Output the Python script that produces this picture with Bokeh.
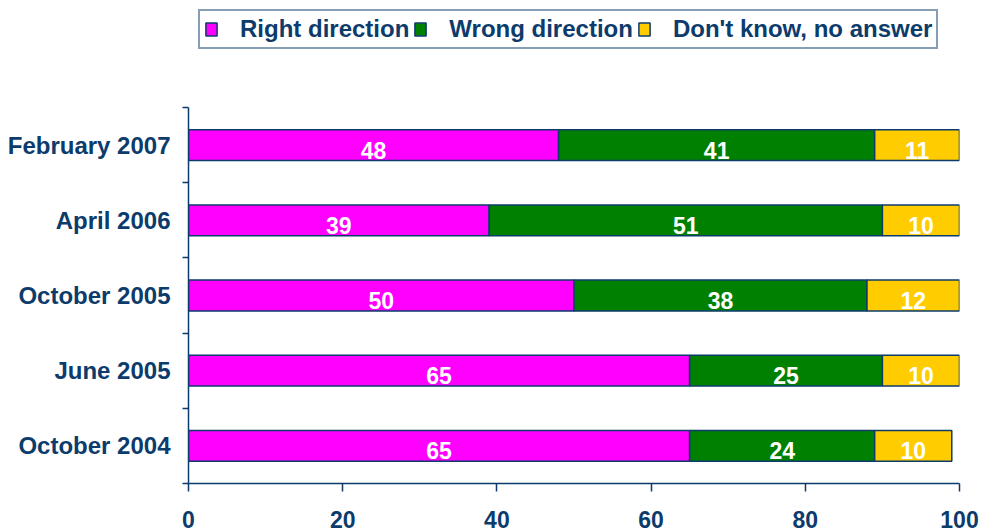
import numpy as np
from bokeh.plotting import figure
from bokeh.models import ColumnDataSource, Range1d, FixedTicker, Legend
from bokeh.core.properties import value
from bokeh.embed import file_html
from bokeh.resources import INLINE

categories = ["February 2007", "April 2006", "October 2005", "June 2005", "October 2004"]
right_dir = [48, 39, 50, 65, 65]
wrong_dir = [41, 51, 38, 25, 24]
dont_know = [11, 10, 12, 10, 10]
series_names = ["Right direction", "Wrong direction", "Don't know, no answer"]
colors = ["#FF00FF", "#008000", "#FFCC00"]
x_ticks = [0, 20, 40, 60, 80, 100]

NAVY = "#0c3b6c"
FONT = "Liberation Sans"

n = len(categories)
ys = [n - i - 0.5 for i in range(n)]
src = ColumnDataSource(dict(y=ys, r=right_dir, w=wrong_dir, d=dont_know))

TOP = 2
FRAME_H = 532 - 49 - TOP
DATA_H = 376
y_end = n * FRAME_H / DATA_H

p = figure(width=988, height=532, output_backend="svg", toolbar_location=None,
           x_range=Range1d(0, 100), y_range=Range1d(0, y_end),
           min_border_left=188, min_border_right=29, min_border_top=TOP, min_border_bottom=49)
p.outline_line_color = None
p.xgrid.visible = False
p.ygrid.visible = False

rends = p.hbar_stack(["r", "w", "d"], y="y", height=0.41, color=colors, source=src,
                     line_color=NAVY, line_width=1.5)

# value labels
r = np.array(right_dir, float); w = np.array(wrong_dir, float); d = np.array(dont_know, float)
lx = np.concatenate([r / 2, r + w / 2, r + w + d / 2])
ly = np.concatenate([ys, ys, ys])
lt = [str(v) for v in right_dir + wrong_dir + dont_know]
lsrc = ColumnDataSource(dict(x=lx, y=ly, t=lt))
p.text(x="x", y="y", text="t", source=lsrc, text_color="white", text_font=value(FONT),
       text_font_style="bold", text_font_size="23px", text_align="center",
       text_baseline="middle", y_offset=5)

# x axis
p.xaxis.ticker = FixedTicker(ticks=x_ticks)
p.xaxis.major_tick_out = 8
p.xaxis.major_tick_in = 0
p.xaxis.minor_tick_out = 0
p.xaxis.minor_tick_in = 0
p.xaxis.major_label_standoff = 19
p.xaxis.major_label_text_font = FONT
p.xaxis.major_label_text_font_style = "bold"
p.xaxis.major_label_text_font_size = "23px"
p.xaxis.major_label_text_color = NAVY
p.xaxis.axis_line_color = NAVY
p.xaxis.axis_line_width = 1.5
p.xaxis.major_tick_line_color = NAVY
p.xaxis.major_tick_line_width = 1.5

# y axis
p.yaxis.bounds = (0, n)
p.yaxis.ticker = FixedTicker(ticks=ys, minor_ticks=list(range(n + 1)))
p.yaxis.major_label_overrides = {float(y): c for y, c in zip(ys, categories)}
p.yaxis.major_tick_out = 0
p.yaxis.major_tick_in = 0
p.yaxis.minor_tick_out = 6
p.yaxis.minor_tick_in = 0
p.yaxis.minor_tick_line_color = NAVY
p.yaxis.minor_tick_line_width = 1.5
p.yaxis.major_label_standoff = 12
p.yaxis.major_label_text_font = FONT
p.yaxis.major_label_text_font_style = "bold"
p.yaxis.major_label_text_font_size = "24px"
p.yaxis.major_label_text_color = NAVY
p.yaxis.axis_line_color = NAVY
p.yaxis.axis_line_width = 1.5

legend = Legend(items=[(nm, [rd]) for nm, rd in zip(series_names, rends)],
                orientation="horizontal", location=(10, 434),
                glyph_width=14, glyph_height=16, label_standoff=22, spacing=4,
                padding=4, margin=0,
                label_text_font=FONT, label_text_font_style="bold",
                label_text_font_size="24px", label_text_color=NAVY,
                border_line_color=NAVY, border_line_width=2,
                background_fill_color="white", background_fill_alpha=1)
p.add_layout(legend, "center")

open("out.html", "w").write(file_html(p, INLINE))
